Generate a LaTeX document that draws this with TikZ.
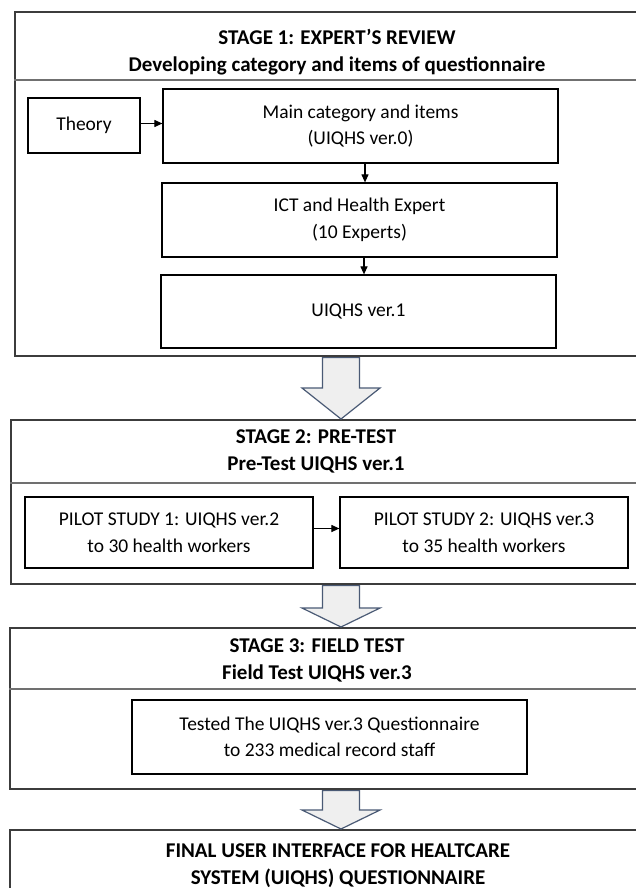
\documentclass[tikz,border=0pt]{standalone}
\usepackage{fontspec}
\setmainfont{Carlito}
\usetikzlibrary{arrows.meta,calc}
\definecolor{outerc}{HTML}{3C3C3C}
\definecolor{sepc}{HTML}{707070}
\definecolor{arrowc}{HTML}{4A5A75}
\definecolor{arrowfill}{HTML}{EFEFEF}
\tikzset{
  stagebox/.style={draw=outerc, line width=1.6pt, anchor=north west, inner sep=0pt},
  sepline/.style={draw=sepc, line width=1.6pt},
  titletext/.style={font=\bfseries\fontsize{21}{27}\selectfont, align=center, inner sep=0pt},
  itembox/.style={draw=black, line width=1.2pt, align=center, inner sep=0pt, font=\fontsize{19.5}{26.5}\selectfont},
  flow/.style={-{Triangle[length=8pt,width=7pt]}, line width=1.1pt},
  barrow/.style={draw=arrowc, fill=arrowfill, line width=1.2pt, line join=miter},
}
\newcommand\stagearrow[4]{%
  \draw[barrow] let \p1=(#1.south), \p2=(#2.north) in
    (#3pt-18.5pt,\y1-1pt) -- (#3pt+18.5pt,\y1-1pt) -- (#3pt+18.5pt,\y2+#4pt)
    -- (#3pt+39pt,\y2+#4pt) -- (#3pt,\y2) -- (#3pt-39pt,\y2+#4pt)
    -- (#3pt-18.5pt,\y2+#4pt) -- cycle;}
\begin{document}
\begin{tikzpicture}[x=1pt,y=-1pt]
\useasboundingbox (0,0) rectangle (636,888);
\clip (0,0) rectangle (636,888);
\fill[white] (0,0) rectangle (636,888);

% ---------- Stage 1 ----------
\node[stagebox, minimum width=666pt, minimum height=344pt] (s1) at (14,11) {};
\coordinate (sep1) at (0,80);
\draw[sepline] (s1.west |- sep1) -- (s1.east |- sep1);
\node[titletext] (t1) at (337,52) {STAGE 1: EXPERT’S REVIEW\\Developing category and items of questionnaire};

\node[itembox, minimum width=112pt, minimum height=55pt] (theory) at (84,125.5) {Theory};
\node[itembox, minimum width=395pt, minimum height=74pt] (main) at (360.5,126) {Main category and items\\(UIQHS ver.0)};
\node[itembox, minimum width=395pt, minimum height=74pt] (ict) at (359.5,220) {ICT and Health Expert\\(10 Experts)};
\node[itembox, minimum width=395pt, minimum height=73pt] (v1) at (358.5,311.5) {UIQHS ver.1};

\draw[flow] ([yshift=2pt]theory.east) -- ([yshift=2pt]main.west |- theory.east);
\draw[flow] ([xshift=4.5pt]main.south) -- ([xshift=5.5pt]ict.north);
\draw[flow] ([xshift=4.5pt]ict.south) -- ([xshift=5.5pt]v1.north);

% ---------- Stage 2 ----------
\node[stagebox, minimum width=670pt, minimum height=164pt] (s2) at (10,419) {};
\coordinate (sep2) at (0,483);
\draw[sepline] (s2.west |- sep2) -- (s2.east |- sep2);
\node[titletext] (t2) at (316,451) {STAGE 2: PRE-TEST\\Pre-Test UIQHS ver.1};

\node[itembox, minimum width=288pt, minimum height=71pt] (p1) at (169,532.5) {PILOT STUDY 1: UIQHS ver.2\\to 30 health workers};
\node[itembox, minimum width=288pt, minimum height=71pt] (p2) at (484,532.5) {PILOT STUDY 2: UIQHS ver.3\\to 35 health workers};
\draw[flow] ([yshift=4pt]p1.east) -- ([yshift=4pt]p2.west);

% ---------- Stage 3 ----------
\node[stagebox, minimum width=671pt, minimum height=161pt] (s3) at (9,627) {};
\coordinate (sep3) at (0,689);
\draw[sepline] (s3.west |- sep3) -- (s3.east |- sep3);
\node[titletext] (t3) at (317,660.5) {STAGE 3: FIELD TEST\\Field Test UIQHS ver.3};

\node[itembox, minimum width=395pt, minimum height=74pt] (ft) at (329.5,737) {Tested The UIQHS ver.3 Questionnaire\\to 233 medical record staff};

% ---------- Final ----------
\node[stagebox, minimum width=671pt, minimum height=90pt] (fin) at (9,829) {};
\node[titletext] (tf) at (338,865.5) {FINAL USER INTERFACE FOR HEALTCARE\\SYSTEM (UIQHS) QUESTIONNAIRE};

% ---------- Block arrows ----------
\stagearrow{s1}{s2}{341}{31}
\stagearrow{s2}{s3}{341}{19}
\stagearrow{s3}{fin}{341}{19}
\end{tikzpicture}
\end{document}
